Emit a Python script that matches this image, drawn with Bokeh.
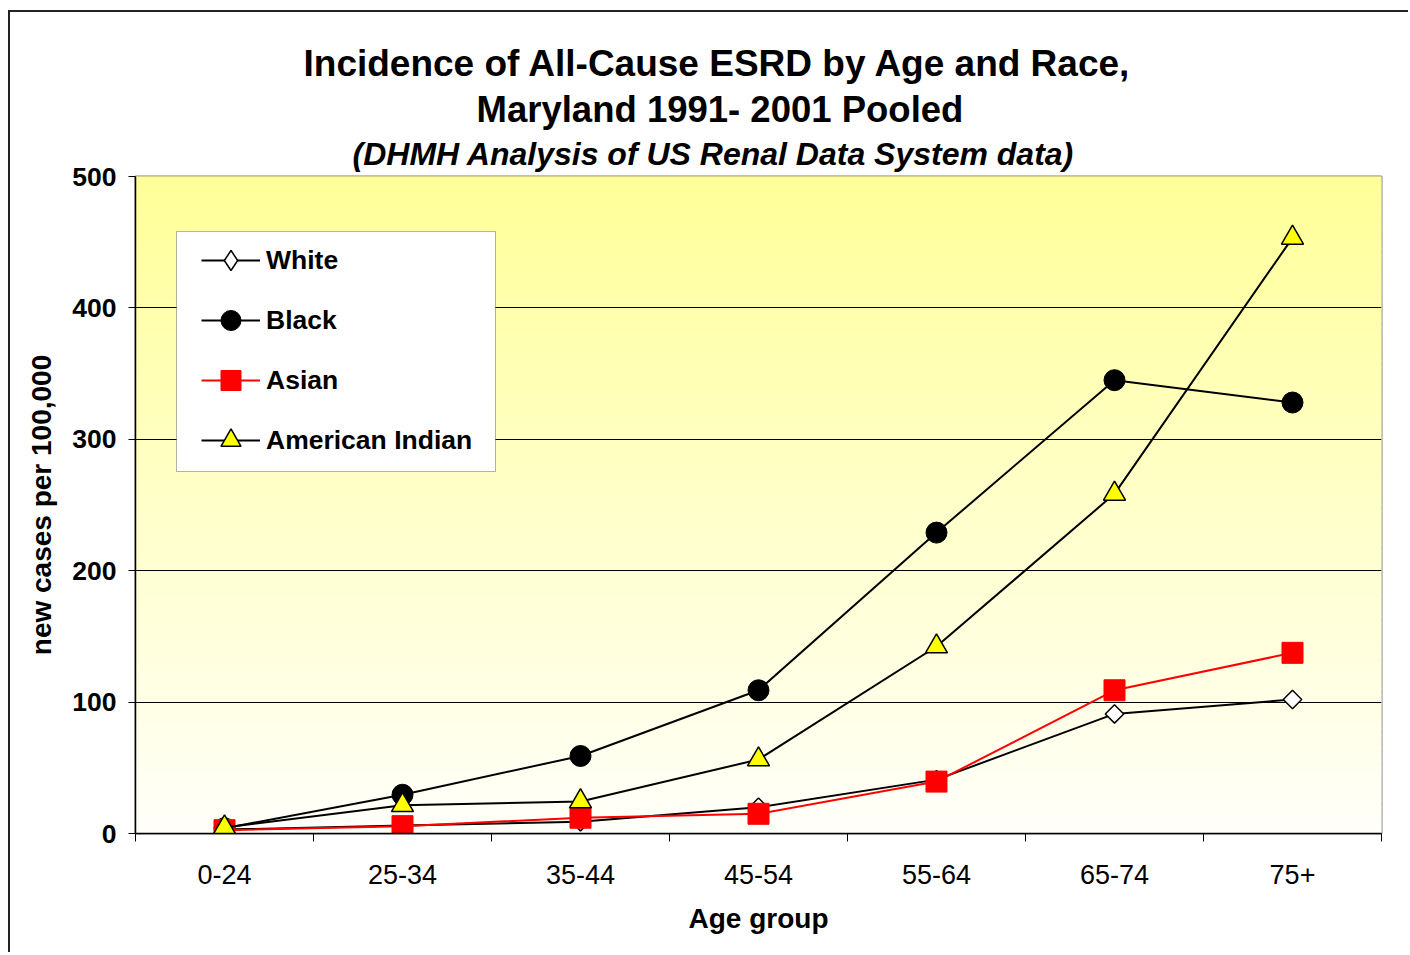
import math
from bokeh.plotting import figure
from bokeh.models import Range1d, FixedTicker, Legend, LegendItem, Title, BoxAnnotation
from bokeh.embed import file_html
from bokeh.resources import INLINE

# ---- data ----
age_groups = ["0-24", "25-34", "35-44", "45-54", "55-64", "65-74", "75+"]
white = [3, 6, 9, 20, 41, 91, 102]
black = [4, 29.5, 59, 109, 229, 345, 328]
asian = [2.5, 5.6, 12, 15, 39.5, 109, 137.5]
american_indian = [4.6, 21.5, 24.4, 56.3, 142.3, 258.5, 453.3]
y_ticks = [0, 100, 200, 300, 400, 500]

FONT = "Liberation Sans"
n = len(age_groups)
xc = [i + 0.5 for i in range(n)]
bounds = list(range(n + 1))

p = figure(width=1400, height=942, x_range=Range1d(0, n), y_range=Range1d(0, 500),
           output_backend="svg", toolbar_location=None,
           min_border_left=125, min_border_right=29, min_border_top=164, min_border_bottom=121)
p.styles = {"border-left": "2px solid #222", "border-top": "2px solid #222",
            "margin-top": "10px", "margin-left": "8px"}
p.background_fill_color = "white"
p.border_fill_color = "white"
p.outline_line_color = "#808080"
p.outline_line_width = 2

# gradient background (decoration)
steps = 100
bot, top_, cols = [], [], []
for i in range(steps):
    t = (i + 0.5) / steps
    b = int(round(250 + (153 - 250) * t))
    cols.append("#ffff%02x" % b)
    bot.append(500 * i / steps)
    top_.append(500 * (i + 1) / steps)
p.quad(left=0, right=n, bottom=bot, top=top_, fill_color=cols, line_color=cols, line_width=1, level="image")

# axes
p.xaxis.ticker = FixedTicker(ticks=xc, minor_ticks=bounds)
p.xaxis.major_label_overrides = {x: lab for x, lab in zip(xc, age_groups)}
p.xaxis.major_tick_out = 0
p.xaxis.major_tick_in = 0
p.xaxis.minor_tick_out = 8
p.xaxis.minor_tick_in = 0
p.xaxis.minor_tick_line_color = "black"
p.xaxis.minor_tick_line_width = 1
p.xaxis.axis_line_color = "black"
p.xaxis.axis_line_width = 1.5
p.xaxis.major_label_text_font = FONT
p.xaxis.major_label_text_font_size = "27px"
p.xaxis.major_label_text_color = "black"
p.xaxis.major_label_standoff = 23
p.xaxis.axis_label = "Age group"
p.xaxis.axis_label_text_font = FONT
p.xaxis.axis_label_text_font_size = "28px"
p.xaxis.axis_label_text_font_style = "bold"
p.xaxis.axis_label_text_color = "black"
p.xaxis.axis_label_standoff = 16

p.yaxis.ticker = FixedTicker(ticks=y_ticks)
p.yaxis.major_tick_out = 7
p.yaxis.major_tick_in = 0
p.yaxis.minor_tick_line_color = None
p.yaxis.major_tick_line_color = "black"
p.yaxis.axis_line_color = "black"
p.yaxis.axis_line_width = 1.5
p.yaxis.major_label_text_font = FONT
p.yaxis.major_label_text_font_size = "26.5px"
p.yaxis.major_label_text_font_style = "bold"
p.yaxis.major_label_text_color = "black"
p.yaxis.major_label_standoff = 12
p.yaxis.axis_label = "new cases per 100,000"
p.yaxis.axis_label_text_font = FONT
p.yaxis.axis_label_text_font_size = "28px"
p.yaxis.axis_label_text_font_style = "bold"
p.yaxis.axis_label_text_color = "black"
p.yaxis.axis_label_standoff = 12

p.xgrid.visible = False
p.ygrid.ticker = FixedTicker(ticks=y_ticks)
p.ygrid.grid_line_color = "black"
p.ygrid.grid_line_width = 1

# series
r_wl = p.line(xc, white, line_color="black", line_width=2)
r_wm = p.scatter(xc, white, marker="square", angle=math.pi / 4, size=13,
                 fill_color="white", line_color="black", line_width=1.5)
r_bl = p.line(xc, black, line_color="black", line_width=2)
r_bm = p.scatter(xc, black, marker="circle", size=21, fill_color="black", line_color="black")
r_al = p.line(xc, asian, line_color="red", line_width=2)
r_am = p.scatter(xc, asian, marker="square", size=21, fill_color="red", line_color="red")
r_il = p.line(xc, american_indian, line_color="black", line_width=2)
r_im = p.scatter(xc, american_indian, marker="triangle", size=22, fill_color="yellow",
                 line_color="black", line_width=1.5)
# legend swatch for White (draws nothing in the plot area)
r_wsw = p.scatter([xc[0]], [float("nan")], marker="diamond", size=20,
                  fill_color="white", line_color="black", line_width=1.5)

# legend box
p.add_layout(BoxAnnotation(left=0.2303, right=2.0225, bottom=275.5, top=458.1,
                           fill_color="white", fill_alpha=1,
                           line_color="black", line_width=1, level="annotation"))

legend = Legend(items=[
    LegendItem(label="White", renderers=[r_wl, r_wsw]),
    LegendItem(label="Black", renderers=[r_bl, r_bm]),
    LegendItem(label="Asian", renderers=[r_al, r_am]),
    LegendItem(label="American Indian", renderers=[r_il, r_im]),
], location=(66, 368))
legend.padding = 0
legend.spacing = 10
legend.margin = 0
legend.glyph_width = 59
legend.glyph_height = 50
legend.label_height = 50
legend.label_standoff = 6
legend.label_text_font = FONT
legend.label_text_font_size = "26.5px"
legend.label_text_font_style = "bold"
legend.label_text_color = "black"
legend.border_line_color = None
legend.background_fill_alpha = 0
p.add_layout(legend)

# titles (closest to plot first)
p.add_layout(Title(text="(DHMH Analysis of US Renal Data System data)", align="left", offset=217,
                   text_font=FONT, text_font_size="32px", text_font_style="bold italic",
                   text_color="black", vertical_align="middle", standoff=8), "above")
p.add_layout(Title(text="Maryland 1991- 2001 Pooled", align="left", offset=341,
                   text_font=FONT, text_font_size="36.5px", text_font_style="bold",
                   text_color="black", vertical_align="middle", standoff=0), "above")
p.add_layout(Title(text="Incidence of All-Cause ESRD by Age and Race,", align="left", offset=168,
                   text_font=FONT, text_font_size="37px", text_font_style="bold",
                   text_color="black", vertical_align="middle", standoff=6), "above")

open("out.html", "w").write(file_html(p, INLINE))
